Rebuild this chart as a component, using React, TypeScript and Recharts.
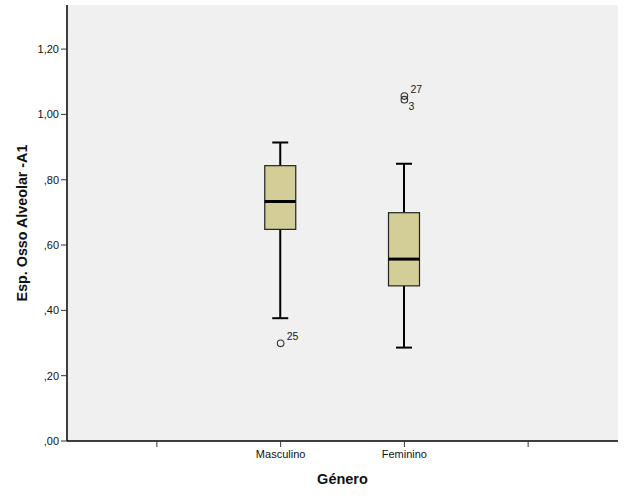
import {
  Bar,
  CartesianGrid,
  ComposedChart,
  Scatter,
  XAxis,
  YAxis,
} from "recharts";

const categories = ["", "Masculino", "Feminino", ""];
const whiskerLow = [null, 0.376, 0.286, null];
const q1 = [null, 0.648, 0.475, null];
const median = [null, 0.733, 0.557, null];
const q3 = [null, 0.843, 0.699, null];
const whiskerHigh = [null, 0.914, 0.849, null];
// outliers: first set labelled above-right, second set below-right
const outlierA = [null, 0.299, 1.056, null];
const outlierALabel = ["", "25", "27", ""];
const outlierB = [null, null, 1.045, null];
const outlierBLabel = ["", "", "3", ""];

const yTicks = [0, 0.2, 0.4, 0.6, 0.8, 1.0, 1.2];

const FONT = "'Liberation Sans', Arial, sans-serif";
const BOX_FILL = "#d3ce98";

const chartData = categories.map((name, i) => ({
  key: "c" + i,
  name,
  range: whiskerLow[i] == null ? null : [whiskerLow[i], whiskerHigh[i]],
  lo: whiskerLow[i],
  q1: q1[i],
  med: median[i],
  q3: q3[i],
  hi: whiskerHigh[i],
  outA: outlierA[i],
  outALabel: outlierALabel[i],
  outB: outlierB[i],
  outBLabel: outlierBLabel[i],
}));

const fmtY = (v: number) => {
  const s = v.toFixed(2).replace(".", ",");
  return s.startsWith("0") ? s.slice(1) : s;
};

function BoxShape(props: any) {
  const { x, y, width, height, payload } = props;
  if (!payload || payload.lo == null || !isFinite(y) || !isFinite(height)) return null;
  const { lo, hi } = payload;
  const py = (v: number) => y + (height * (hi - v)) / (hi - lo);
  const cx = x + width / 2;
  const cap = 8;
  return (
    <g>
      <line x1={cx} x2={cx} y1={py(hi)} y2={py(payload.q3)} stroke="#000" strokeWidth={2} />
      <line x1={cx} x2={cx} y1={py(payload.q1)} y2={py(lo)} stroke="#000" strokeWidth={2} />
      <line x1={cx - cap} x2={cx + cap} y1={py(hi)} y2={py(hi)} stroke="#000" strokeWidth={2} />
      <line x1={cx - cap} x2={cx + cap} y1={py(lo)} y2={py(lo)} stroke="#000" strokeWidth={2} />
      <rect
        x={x}
        y={py(payload.q3)}
        width={width}
        height={py(payload.q1) - py(payload.q3)}
        fill={BOX_FILL}
        stroke="#222"
        strokeWidth={1.2}
      />
      <line x1={x} x2={x + width} y1={py(payload.med)} y2={py(payload.med)} stroke="#000" strokeWidth={3} />
    </g>
  );
}

function makeOutlier(field: string, labelField: string, dx: number, dy: number) {
  return (props: any) => {
    const { cx, cy, payload } = props;
    if (!payload || payload[field] == null || !isFinite(cy)) return null;
    return (
      <g>
        <circle cx={cx} cy={cy} r={3.3} fill="none" stroke="#333" strokeWidth={1.1} />
        <text x={cx + dx} y={cy + dy} fontSize={10.5} fontFamily={FONT} fill="#222">
          {payload[labelField]}
        </text>
      </g>
    );
  };
}

const OutlierA = makeOutlier("outA", "outALabel", 6, -3);
const OutlierB = makeOutlier("outB", "outBLabel", 4, 10);

export default function App() {
  return (
    <div style={{ position: "absolute", left: 0, top: 0, background: "#fff" }}>
      <ComposedChart
        width={626}
        height={501}
        data={chartData}
        margin={{ top: 5, right: 8, left: 0, bottom: 0 }}
      >
        <CartesianGrid fill="#f0f0f0" stroke="none" />
        <XAxis
          dataKey="key"
          type="category"
          height={60}
          padding={{ left: 28, right: 28 }}
          tickFormatter={(_v: string, i: number) => categories[i]}
          tick={{ fontSize: 11, fill: "#111", fontFamily: FONT }}
          tickSize={6}
          tickMargin={3}
          tickLine={{ stroke: "#333" }}
          axisLine={{ stroke: "#000", strokeWidth: 1.5 }}
          interval={0}
          label={{
            content: (p: any) => {
              const vb = p.viewBox;
              return (
                <text
                  x={vb.x + vb.width / 2}
                  y={vb.y + 43}
                  textAnchor="middle"
                  fontSize={14.5}
                  fontWeight="bold"
                  fontFamily={FONT}
                  fill="#111"
                >
                  Género
                </text>
              );
            },
          }}
        />
        <XAxis
          xAxisId="top"
          dataKey="key"
          orientation="top"
          height={0}
          tick={false}
          tickLine={false}
          axisLine={{ stroke: "#777", strokeWidth: 2 }}
        />
        <YAxis
          type="number"
          domain={[0, 1.335]}
          ticks={yTicks}
          width={67}
          tickFormatter={fmtY}
          tick={{ fontSize: 11, fill: "#111", fontFamily: FONT }}
          tickSize={6}
          tickMargin={2}
          tickLine={{ stroke: "#333" }}
          axisLine={{ stroke: "#000", strokeWidth: 1.5 }}
          allowDataOverflow
          label={{
            content: (p: any) => {
              const vb = p.viewBox;
              const cy = vb.y + vb.height / 2;
              return (
                <text
                  x={22}
                  y={cy}
                  textAnchor="middle"
                  dominantBaseline="central"
                  transform={`rotate(-90, 22, ${cy})`}
                  fontSize={14.3}
                  fontWeight="bold"
                  fontFamily={FONT}
                  fill="#111"
                >
                  Esp. Osso Alveolar -A1
                </text>
              );
            },
          }}
        />
        <YAxis
          yAxisId="right"
          orientation="right"
          width={0}
          domain={[0, 1.335]}
          tick={false}
          tickLine={false}
          axisLine={{ stroke: "#555", strokeWidth: 2 }}
        />
        <Bar dataKey="range" barSize={31} shape={BoxShape} isAnimationActive={false} />
        <Scatter dataKey="outA" shape={OutlierA} isAnimationActive={false} />
        <Scatter dataKey="outB" shape={OutlierB} isAnimationActive={false} />
      </ComposedChart>
    </div>
  );
}
